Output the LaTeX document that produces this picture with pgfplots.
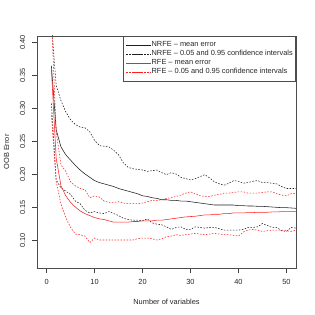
\documentclass[border=0pt]{standalone}
\usepackage{fontspec}
\setmainfont{Liberation Sans}
\usepackage{pgfplots}
\pgfplotsset{compat=1.18}
\usepackage{pgfplotstable}
\definecolor{rred}{RGB}{255,30,30}
\definecolor{rblk}{RGB}{30,30,30}

% x  NRFE-mean  NRFE-lo  NRFE-hi  RFE-mean  RFE-lo  RFE-hi
\pgfplotstableread{
x nm nl nh rm rl rh
1 0.365 0.308 0.430 0.360 0.290 0.440
2 0.268 0.192 0.335 0.225 0.190 0.265
3 0.242 0.180 0.312 0.183 0.155 0.215
4 0.230 0.175 0.295 0.168 0.135 0.205
5 0.222 0.170 0.283 0.158 0.120 0.189
6 0.214 0.160 0.276 0.151 0.110 0.183
7 0.207 0.156 0.272 0.145 0.109 0.179
8 0.201 0.146 0.271 0.141 0.107 0.177
9 0.196 0.142 0.265 0.138 0.097 0.165
10 0.191 0.144 0.252 0.135 0.104 0.168
11 0.188 0.142 0.244 0.133 0.101 0.166
12 0.186 0.141 0.243 0.132 0.101 0.160
13 0.184 0.144 0.242 0.130 0.101 0.158
14 0.182 0.141 0.237 0.128 0.101 0.158
15 0.179 0.138 0.230 0.128 0.101 0.159
16 0.177 0.134 0.218 0.128 0.101 0.157
17 0.175 0.132 0.211 0.128 0.101 0.156
18 0.173 0.131 0.209 0.129 0.101 0.156
19 0.171 0.131 0.208 0.129 0.103 0.156
20 0.168 0.130 0.207 0.130 0.104 0.157
21 0.167 0.133 0.205 0.130 0.104 0.159
22 0.165 0.127 0.206 0.130 0.103 0.161
23 0.164 0.125 0.207 0.131 0.101 0.161
24 0.162 0.124 0.203 0.131 0.103 0.162
25 0.162 0.121 0.200 0.132 0.106 0.164
26 0.161 0.117 0.203 0.133 0.107 0.165
27 0.161 0.120 0.201 0.134 0.109 0.167
28 0.160 0.121 0.196 0.135 0.108 0.169
29 0.160 0.117 0.194 0.136 0.109 0.172
30 0.159 0.117 0.192 0.1365 0.110 0.174
31 0.158 0.121 0.194 0.137 0.111 0.171
32 0.157 0.120 0.197 0.138 0.110 0.168
33 0.156 0.119 0.200 0.139 0.109 0.167
34 0.155 0.120 0.195 0.139 0.110 0.167
35 0.154 0.120 0.189 0.140 0.111 0.169
36 0.154 0.118 0.186 0.140 0.110 0.170
37 0.154 0.116 0.184 0.141 0.109 0.172
38 0.154 0.116 0.187 0.141 0.109 0.172
39 0.154 0.116 0.191 0.142 0.108 0.173
40 0.153 0.116 0.190 0.142 0.107 0.174
41 0.153 0.117 0.187 0.142 0.113 0.174
42 0.1525 0.120 0.188 0.1425 0.116 0.172
43 0.1525 0.120 0.190 0.1425 0.117 0.172
44 0.152 0.121 0.191 0.143 0.116 0.172
45 0.152 0.126 0.188 0.143 0.114 0.173
46 0.1515 0.123 0.188 0.143 0.115 0.174
47 0.151 0.120 0.187 0.1435 0.116 0.174
48 0.1505 0.120 0.186 0.1435 0.116 0.171
49 0.150 0.115 0.182 0.144 0.116 0.169
50 0.150 0.114 0.179 0.144 0.115 0.168
51 0.1495 0.120 0.179 0.144 0.114 0.171
52 0.149 0.119 0.179 0.144 0.116 0.172
53 0.149 0.119 0.179 0.144 0.116 0.172
}\data

\begin{document}
\fontsize{7.4bp}{9bp}\selectfont
\begin{tikzpicture}
\begin{axis}[
  at={(37bp,47bp)}, anchor=south west,
  scale only axis, width=259bp, height=232bp,
  xmin=-2, xmax=52, ymin=0.0586, ymax=0.41,
  xtick={0,10,20,30,40,50},
  ytick={0.10,0.15,0.20,0.25,0.30,0.35,0.40},
  y tick label style={/pgf/number format/fixed, /pgf/number format/fixed zerofill, /pgf/number format/precision=2},
  /pgf/number format/assume math mode=true,
  tick align=outside, xtick pos=bottom, ytick pos=left,
  major tick length=4.5bp,
  tick style={black!75, line width=0.5bp},
  axis line style={black!70, line width=0.5bp},
  ticklabel style={font=\fontsize{7.4bp}{9bp}\selectfont, text=black!85},
  xticklabel style={inner sep=0pt, anchor=north, yshift=-7bp},
  yticklabel style={inner sep=0pt, anchor=south, rotate=90},
  yticklabel shift=7bp,
  xlabel={Number of variables},
  ylabel={OOB Error},
  label style={font=\fontsize{7.4bp}{9bp}\selectfont, text=black!85},
  xlabel style={at={(axis description cs:0.5,-0.1453)}, anchor=center},
  ylabel style={at={(axis description cs:-0.1178,0.5)}, anchor=center},
  legend style={at={(rel axis cs:1,1)}, anchor=north east,
    draw=black!70, line width=0.5bp, inner xsep=3bp, inner ysep=4.5bp,
    row sep=0pt,
    nodes={inner sep=0pt, text height=6bp, text depth=3bp, text=black!85,
      font=\fontsize{7.4bp}{9bp}\selectfont}},
  legend cell align=left,
  legend image code/.code={\path (0bp,0bp) -- (25.3bp,0bp);
    \draw[#1] (7.3bp,0bp) -- (17.3bp,0bp);},
  clip=true,
]
\addplot[rblk, line width=0.55bp] table[x=x,y=nm]{\data};
\addlegendentry{NRFE \textendash{} mean error}
\addplot[rblk, line width=0.55bp, dash pattern=on 1.5bp off 1.5bp] table[x=x,y=nh]{\data};
\addlegendentry{NRFE \textendash{} 0.05 and 0.95 confidence intervals}
\addplot[forget plot, rblk, line width=0.55bp, dash pattern=on 1.5bp off 1.5bp] table[x=x,y=nl]{\data};
\addplot[rred, line width=0.55bp] table[x=x,y=rm]{\data};
\addlegendentry{RFE \textendash{} mean error}
\addplot[rred, line width=0.55bp, dash pattern=on 1.5bp off 1.5bp] table[x=x,y=rh]{\data};
\addlegendentry{RFE \textendash{} 0.05 and 0.95 confidence intervals}
\addplot[forget plot, rred, line width=0.55bp, dash pattern=on 1.5bp off 1.5bp] table[x=x,y=rl]{\data};
\end{axis}
\pgfresetboundingbox
\path (0bp,0bp) rectangle (315bp,315bp);
\end{tikzpicture}
\end{document}
